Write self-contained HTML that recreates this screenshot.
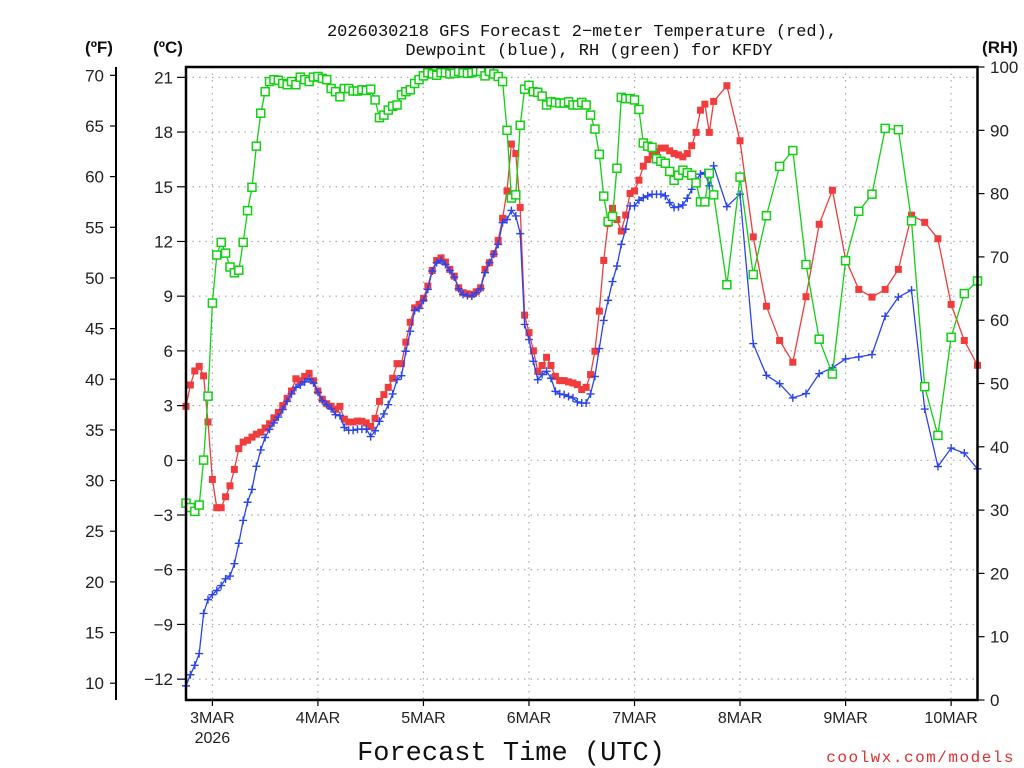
<!DOCTYPE html>
<html><head><meta charset="utf-8"><style>
html,body{margin:0;padding:0;background:#fff;}
svg{display:block;font-family:"Liberation Sans",sans-serif;}
</style></head><body>
<svg id="chart" width="1024" height="768" viewBox="0 0 1024 768" xmlns="http://www.w3.org/2000/svg">
<text x="582" y="36" font-size="17" font-family="Liberation Mono, monospace" text-anchor="middle" fill="#111">2026030218 GFS Forecast 2−meter Temperature (red),</text>
<text x="589" y="55" font-size="17" font-family="Liberation Mono, monospace" text-anchor="middle" fill="#111">Dewpoint (blue), RH (green) for KFDY</text>
<text x="99" y="53" font-size="17" font-weight="bold" text-anchor="middle" fill="#111">(ºF)</text>
<text x="168" y="53" font-size="17" font-weight="bold" text-anchor="middle" fill="#111">(ºC)</text>
<text x="1000" y="53" font-size="17" font-weight="bold" text-anchor="middle" fill="#111">(RH)</text>
<text x="511" y="760" font-size="27" font-family="Liberation Mono, monospace" text-anchor="middle" fill="#111">Forecast Time (UTC)</text>
<text x="1015" y="762" font-size="16" font-family="Liberation Mono, monospace" text-anchor="end" fill="#e03030" letter-spacing="1.5">coolwx.com/models</text>
<g id="grid"></g><g id="series"></g><g id="axes"></g>
</svg>
<script>
const tempC = [2.96,4.13,4.9,5.15,4.63,2.1,-1.05,-2.6,-2.6,-2.0,-1.4,-0.5,0.64,1.0,1.1,1.27,1.43,1.54,1.77,2.0,2.33,2.63,3.0,3.4,3.8,4.47,4.36,4.6,4.77,4.36,3.8,3.35,3.1,2.96,2.8,2.96,2.26,2.1,2.1,2.15,
2.14,2.05,1.86,2.3,3.23,3.6,4.0,4.5,5.3,5.3,6.48,7.57,8.36,8.55,8.88,9.55,10.41,10.96,11.1,10.87,10.47,10.1,9.46,9.19,9.13,9.1,9.24,9.46,10.47,10.83,11.33,12.06,13.27,14.77,17.34,16.82,13.86,7.96,7.0,6.0,4.88,
5.2,5.65,5.2,4.6,4.37,4.37,4.3,4.24,4.15,3.88,4.0,4.7,5.98,
8.18,10.96,12.98,13.82,13.2,12.57,13.45,14.63,14.77,15.36,16.13,16.49,16.71,16.93,17.12,17.12,16.97,16.82,16.75,16.64,16.82,17.25,17.98,19.2,19.53,17.98,19.68,
20.54,17.52,12.25,8.45,6.57,5.38,8.97,12.94,14.81,11.02,9.37,8.95,9.37,10.47,13.44,13.05,12.15,8.55,6.57,5.21];
const dewC = [-12.37,-11.76,-11.24,-10.6,-8.4,-7.64,-7.37,-7.14,-6.87,-6.5,-6.35,-5.67,-4.55,-3.3,-2.3,-1.6,-0.33,0.57,1.25,1.7,2.05,2.37,2.78,3.23,3.64,4.0,4.13,4.3,4.47,4.24,3.73,3.28,3.05,2.83,2.5,2.45,1.8,1.65,1.65,1.7,
1.71,1.71,1.3,1.62,2.14,2.54,3.05,3.64,4.43,4.64,5.98,7.08,8.22,8.33,8.77,9.37,10.38,10.84,10.96,10.74,10.41,10.05,9.41,9.1,9.04,9.0,9.19,9.42,10.29,10.84,11.3,11.84,13.03,13.2,13.7,13.4,12.43,7.45,6.62,5.43,4.42,
4.7,4.88,4.5,3.78,3.64,3.6,3.5,3.42,3.2,3.14,3.14,3.64,4.6,
6.13,7.67,8.77,9.8,10.65,11.84,12.67,13.95,13.95,14.26,14.4,14.5,14.59,14.59,14.59,14.5,14.13,13.86,13.9,14.0,14.37,14.86,15.36,15.69,15.78,15.05,16.15,
13.91,14.59,6.4,4.66,4.2,3.42,3.66,4.75,5.07,5.56,5.67,5.8,7.9,8.95,9.33,2.81,-0.34,0.67,0.4,-0.47];
const rhPct = [31.1,30.4,29.8,30.8,37.9,48,62.7,70.3,72.3,70.6,68.4,67.5,67.9,72.3,77.3,81,87.5,92.7,96.1,97.7,98,97.9,97.4,97.2,97.7,97.2,98.4,98,97.7,98.4,98.5,98.2,98,96.6,96.1,95.3,96.6,96.6,96.2,96.2,
96.4,96.3,96.5,94.8,92,92.4,93.2,93.8,94,95.6,96.1,96.4,97.4,98,98.6,99.1,98.9,98.7,99.1,99.1,98.9,99.0,99.3,99.1,99.0,99.1,99.3,99.3,98.6,99.3,98.9,98.5,97.7,90,79.3,79.8,90.8,
96.5,97.1,96.1,96.0,95.4,94.0,94.5,94.4,94.3,94.3,94.5,94.0,94.0,94.4,94.0,92.4,90.2,86.2,79.6,75.6,76.4,84,95.2,95.0,95.0,94.8,93.3,88.0,87.5,87.3,85.5,85.1,84.8,83.5,82.1,82.9,83.7,83.3,82.9,81.7,78.7,78.7,83.2,79.8,
65.6,82.6,67.2,76.5,84.3,86.8,68.8,57.0,51.5,69.4,77.2,79.9,90.3,90.1,75.7,49.5,41.8,57.3,64.2,66.2];
const dayLabels = ["3MAR","4MAR","5MAR","6MAR","7MAR","8MAR","9MAR","10MAR"];
const celsiusTicks = [-12,-9,-6,-3,0,3,6,9,12,15,18,21];
const fahrenheitTicks = [10,15,20,25,30,35,40,45,50,55,60,65,70];
const rhTicks = [0,10,20,30,40,50,60,70,80,90,100];

const hours = [];
for (let h = 0; h <= 120; h++) hours.push(h);
for (let h = 123; h <= 180; h += 3) hours.push(h);

const NS = "http://www.w3.org/2000/svg";
const L = 186, R = 977.5, T = 67, B = 700;
const xH = h => L + h * (R - L) / 180;
const yC = c => 460.3 - c * 18.236;
const yRH = r => B - r * (B - T) / 100;
function mk(tag, attrs, parent, text) {
  const e = document.createElementNS(NS, tag);
  for (const k in attrs) e.setAttribute(k, attrs[k]);
  if (text !== undefined) e.textContent = text;
  parent.appendChild(e);
  return e;
}
const grid = document.getElementById("grid");
const series = document.getElementById("series");
const axes = document.getElementById("axes");

celsiusTicks.forEach(c => {
  const g = mk("line", {x1: L, x2: R, y1: yC(c), y2: yC(c), stroke: "#aaa", "stroke-width": 1.2, "stroke-dasharray": "1.5,5"}, grid);
  
  
});
dayLabels.forEach((d, i) => {
  const x = xH(6 + 24 * i);
  const g = mk("line", {x1: x, x2: x, y1: T, y2: B, stroke: "#aaa", "stroke-width": 1.2, "stroke-dasharray": "1.5,5"}, grid);
  
  
});

function drawSeries(vals, yf, color, name, marker) {
  const pts = vals.map((v, i) => xH(hours[i]).toFixed(1) + "," + yf(v).toFixed(1)).join(" ");
  const pl = mk("polyline", {points: pts, fill: "none", stroke: color, "stroke-width": 1.3}, series);
  
  
  const g = mk("g", {}, series);
  
  
  vals.forEach((v, i) => {
    const x = xH(hours[i]), y = yf(v);
    let m;
    if (marker === "fill") m = mk("rect", {x: x - 3.5, y: y - 3.5, width: 7, height: 7, fill: color}, g);
    else if (marker === "open") m = mk("rect", {x: x - 4, y: y - 4, width: 8, height: 8, fill: "#fff", stroke: color, "stroke-width": 1.5}, g);
    else m = mk("path", {d: `M${x-4},${y}H${x+4}M${x},${y-4}V${y+4}`, stroke: color, "stroke-width": 1.4}, g);
    
    
  });
}
drawSeries(tempC, yC, "#f03c3c", "temperature", "fill");
drawSeries(dewC, yC, "#2a44f0", "dewpoint", "plus");
drawSeries(rhPct, yRH, "#12d012", "relative-humidity", "open");

const frame = mk("rect", {x: L, y: T, width: R - L, height: B - T, fill: "none", stroke: "#000", "stroke-width": 2.5}, axes);


const fl = mk("line", {x1: 116, x2: 116, y1: T, y2: B, stroke: "#000", "stroke-width": 2}, axes);



celsiusTicks.forEach(c => {
  const y = yC(c);
  const t = mk("line", {x1: 177, x2: L, y1: y, y2: y, stroke: "#000", "stroke-width": 1.2}, axes);
  
  
  const lb = mk("text", {x: 173, y: y + 6, "font-size": 17, "text-anchor": "end", fill: "#222"}, axes, c < 0 ? "−" + Math.abs(c) : String(c));
  
  
});
fahrenheitTicks.forEach(f => {
  const y = yC((f - 32) * 5 / 9);
  const t = mk("line", {x1: 110, x2: 116, y1: y, y2: y, stroke: "#000", "stroke-width": 1.2}, axes);
  
  
  const lb = mk("text", {x: 104, y: y + 6, "font-size": 17, "text-anchor": "end", fill: "#222"}, axes, String(f));
  
  
});
rhTicks.forEach(r => {
  const y = yRH(r);
  const t = mk("line", {x1: R, x2: R + 7, y1: y, y2: y, stroke: "#000", "stroke-width": 1.2}, axes);
  
  
  const lb = mk("text", {x: 990, y: y + 6, "font-size": 17, fill: "#222"}, axes, String(r));
  
  
});
dayLabels.forEach((d, i) => {
  const x = xH(6 + 24 * i);
  const t = mk("line", {x1: x, x2: x, y1: B, y2: B + 6, stroke: "#000", "stroke-width": 1.2}, axes);
  
  
  const lb = mk("text", {x: x, y: 723, "font-size": 16, "text-anchor": "middle", fill: "#222"}, axes, d);
  
  
});
const yr = mk("text", {x: xH(6), y: 743, "font-size": 16, "text-anchor": "middle", fill: "#222"}, axes, "2026");


</script>
</body></html>
